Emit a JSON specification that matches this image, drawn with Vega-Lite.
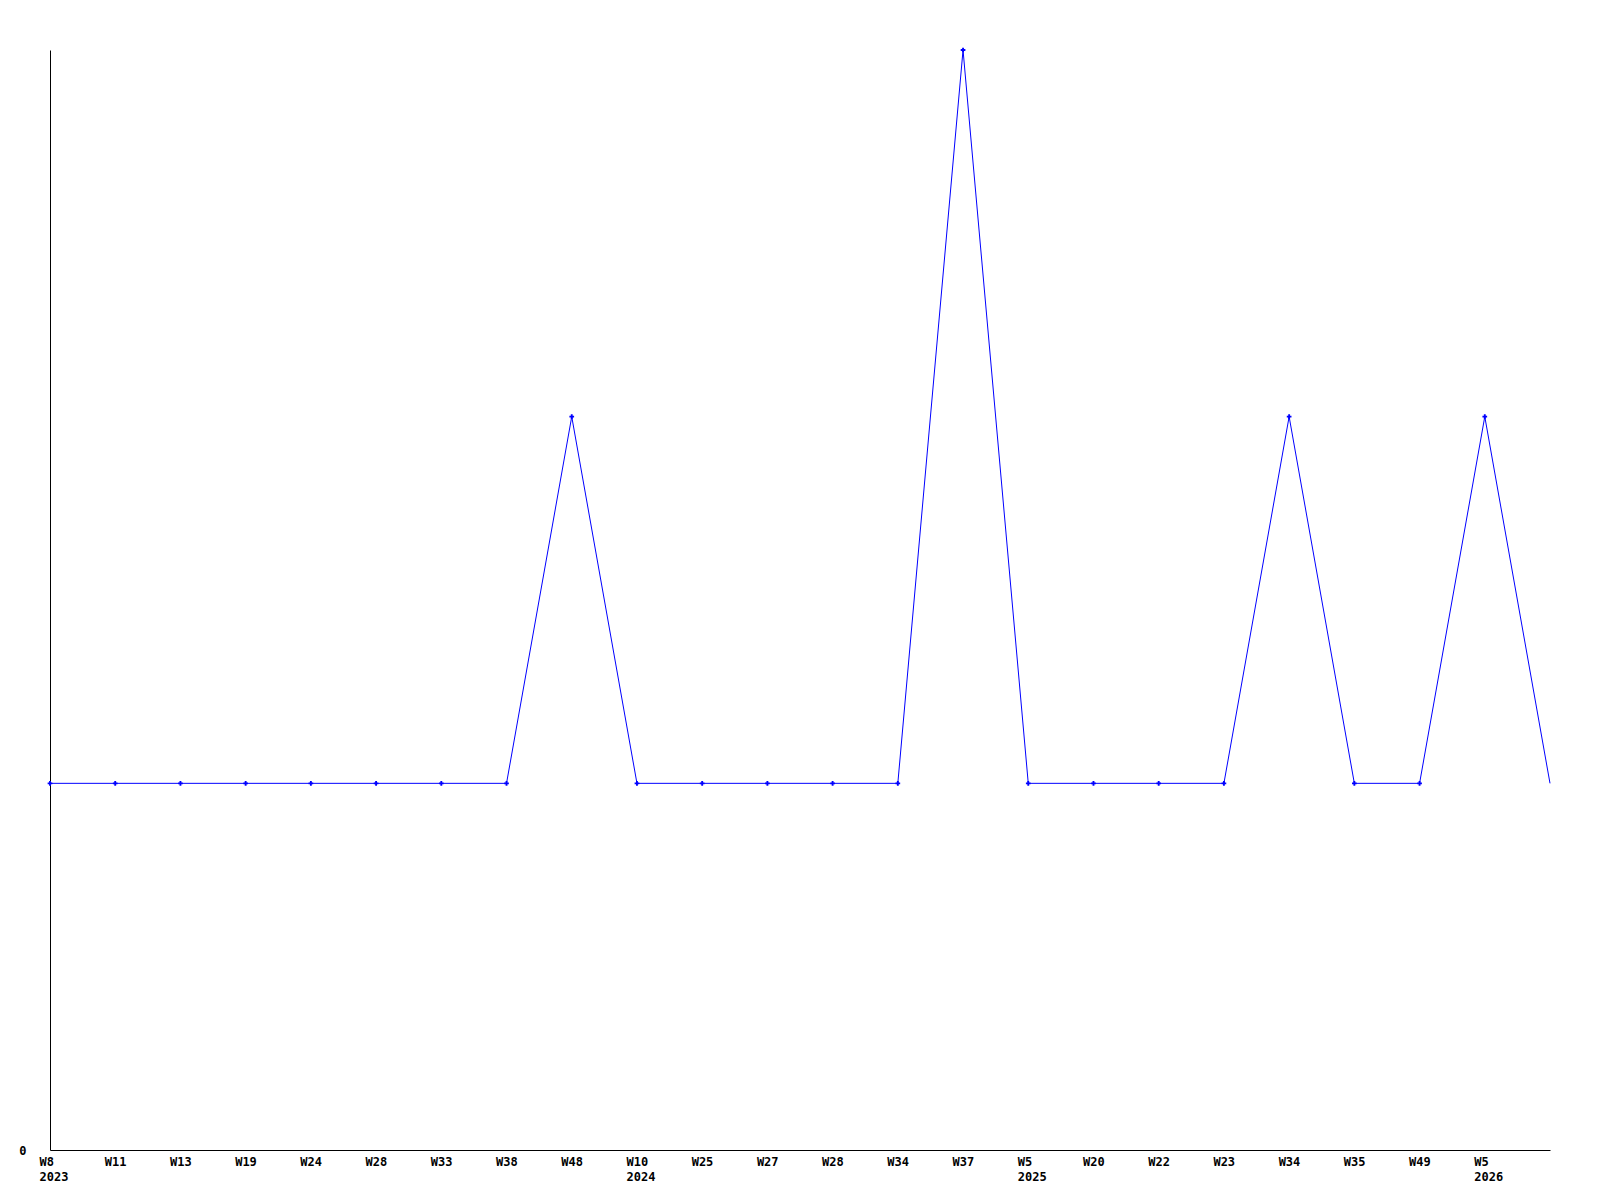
{
  "$schema": "https://vega.github.io/schema/vega-lite/v6.json",
  "autosize": {"type": "none"},
  "width": 1500,
  "height": 1100,
  "padding": {"left": 50, "top": 50, "right": 50, "bottom": 50},
  "background": "white",
  "config": {"view": {"stroke": null}},
  "data": {"values": [
    {"t": "2023-W8", "v": 1},
    {"t": "2023-W11", "v": 1},
    {"t": "2023-W13", "v": 1},
    {"t": "2023-W19", "v": 1},
    {"t": "2023-W24", "v": 1},
    {"t": "2023-W28", "v": 1},
    {"t": "2023-W33", "v": 1},
    {"t": "2023-W38", "v": 1},
    {"t": "2023-W48", "v": 2},
    {"t": "2024-W10", "v": 1},
    {"t": "2024-W25", "v": 1},
    {"t": "2024-W27", "v": 1},
    {"t": "2024-W28", "v": 1},
    {"t": "2024-W34", "v": 1},
    {"t": "2024-W37", "v": 3},
    {"t": "2025-W5", "v": 1},
    {"t": "2025-W20", "v": 1},
    {"t": "2025-W22", "v": 1},
    {"t": "2025-W23", "v": 1},
    {"t": "2025-W34", "v": 2},
    {"t": "2025-W35", "v": 1},
    {"t": "2025-W49", "v": 1},
    {"t": "2026-W5", "v": 2},
    {"t": "2026-now", "v": 1}
  ]},
  "encoding": {
    "x": {
      "field": "t", "type": "ordinal", "sort": null,
      "scale": {"type": "point", "padding": 0},
      "axis": {
        "title": null, "labelAngle": 0, "ticks": false, "grid": false,
        "domainColor": "black", "domainWidth": 1,
        "labelFont": "DejaVu Sans Mono", "labelFontWeight": "bold", "labelFontSize": 12,
        "labelColor": "black", "labelAlign": "left", "labelBaseline": "top",
        "labelOffset": -11, "labelPadding": 6, "labelLineHeight": 15,
        "labelOverlap": false, "labelBound": false, "labelFlush": false,
        "labelExpr": "datum.value == '2026-now' ? '' : (indexof(['2023-W8','2024-W10','2025-W5','2026-W5'], datum.value) >= 0 ? [split(datum.value,'-')[1], split(datum.value,'-')[0]] : split(datum.value,'-')[1])"
      }
    },
    "y": {
      "field": "v", "type": "quantitative",
      "scale": {"domain": [0, 3], "nice": false, "zero": true},
      "axis": {
        "title": null, "values": [0], "ticks": false, "grid": false,
        "domainColor": "black", "domainWidth": 1,
        "labelFont": "DejaVu Sans Mono", "labelFontWeight": "bold", "labelFontSize": 12,
        "labelColor": "black", "labelPadding": 24, "labelBaseline": "middle"
      }
    }
  },
  "layer": [
    {"mark": {"type": "line", "color": "#0000ff", "strokeWidth": 1, "clip": false}},
    {
      "transform": [{"filter": "datum.t != '2026-now'"}],
      "mark": {"type": "point", "shape": "cross", "filled": true, "color": "#0000ff", "size": 22, "opacity": 1, "clip": false}
    }
  ]
}
